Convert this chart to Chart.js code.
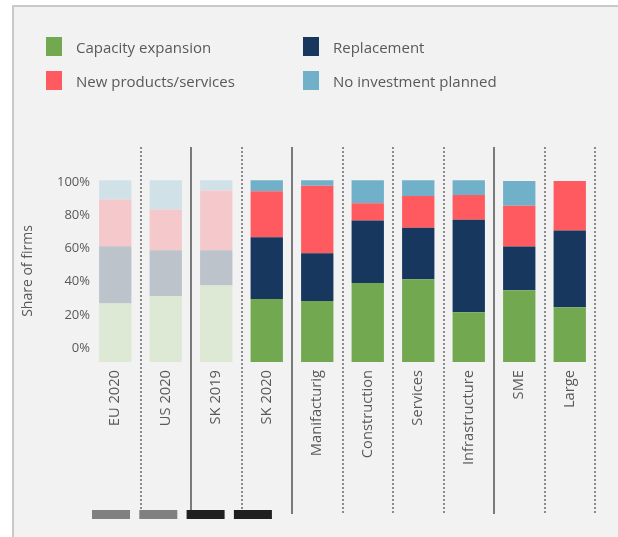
<!DOCTYPE html>
<html>
<head>
<meta charset="utf-8">
<script src="https://cdn.jsdelivr.net/npm/chart.js@4/dist/chart.umd.min.js"></script>
<style>
  html, body { margin: 0; padding: 0; background: #fff; }
  body { width: 618px; height: 537px; position: relative; overflow: hidden; font-family: "Open Sans", sans-serif; }
  #panel { position: absolute; left: 12px; top: 5px; right: 0; bottom: 0; background: #f2f2f2;
           border-left: 2px solid #c9c9c9; border-top: 2px solid #c9c9c9; }
  #chart { position: absolute; left: 0; top: 0; }
  #legend { position: absolute; left: 46px; top: 37px; }
  .item { position: absolute; display: flex; align-items: center; white-space: nowrap;
          font-size: 15px; color: #595959; height: 19px; }
  .sw { width: 16px; height: 19px; margin-right: 14px; flex: none; }
</style>
</head>
<body>
<div id="panel"></div>
<canvas id="chart" width="618" height="537"></canvas>
<div id="legend"></div>
<script>
// categories and shares (% of firms)
const categories = ['EU 2020', 'US 2020', 'SK 2019', 'SK 2020', 'Manifacturig', 'Construction',
                    'Services', 'Infrastructure', 'SME', 'Large'];
const capacityExpansion = [32.1, 36.1, 42.0, 34.6, 33.5, 43.4, 45.4, 27.3, 39.4, 30.1];
const replacement       = [31.5, 25.3, 19.4, 33.9, 26.2, 34.3, 28.4, 50.9, 24.0, 42.1];
const newProducts       = [25.7, 22.4, 32.8, 25.3, 37.2,  9.5, 17.4, 13.5, 22.5, 27.3];
const noInvestment      = [10.6, 16.1,  5.7,  6.0,  2.9, 12.6,  8.6,  8.1, 13.6,  0];
const yTicks = [0, 20, 40, 60, 80, 100];

// first three bars are shown faded (comparison)
const fadedCount = 3;
// separator style after each category
const separators = ['dot', 'solid', 'dot', 'solid', 'dot', 'dot', 'dot', 'solid', 'dot', 'dot'];

const series = [
  { label: 'Capacity expansion', data: capacityExpansion, color: '#72a84f', faded: '#dde9d4' },
  { label: 'Replacement', data: replacement, color: '#17375e', faded: '#bcc3cb' },
  { label: 'New products/services', data: newProducts, color: '#ff5a5f', faded: '#f5c9cb' },
  { label: 'No investment planned', data: noInvestment, color: '#70b0c8', faded: '#d0e2e7' }
];

Chart.defaults.font.family = "'Open Sans', sans-serif";
Chart.defaults.color = '#595959';

// legend in two columns (html, real text)
const legend = document.getElementById('legend');
const legendOrder = [0, 2, 1, 3];
legendOrder.forEach(function (idx, k) {
  const s = series[idx];
  const col = Math.floor(k / 2), row = k % 2;
  const el = document.createElement('div');
  el.className = 'item';
  el.style.left = (col * 257) + 'px';
  el.style.top = (row * 34) + 'px';
  el.innerHTML = '<span class="sw" style="background:' + s.color + '"></span>' + s.label;
  legend.appendChild(el);
});

// dividers between the categories + small group marks at the bottom
const dividers = {
  id: 'dividers',
  beforeDatasetsDraw(chart) {
    const ctx = chart.ctx, area = chart.chartArea, x = chart.scales.x;
    const step = x.getPixelForValue(1) - x.getPixelForValue(0);
    const top = area.top - 33, bottom = area.bottom + 152;
    ctx.save();
    separators.forEach(function (type, i) {
      const px = Math.round(x.getPixelForValue(i) + step / 2);
      ctx.beginPath();
      ctx.strokeStyle = type === 'solid' ? '#7a7a7a' : '#8c8c8c';
      ctx.lineWidth = 2;
      ctx.setLineDash(type === 'solid' ? [] : [2, 2]);
      ctx.moveTo(px, top);
      ctx.lineTo(px, bottom);
      ctx.stroke();
    });
    ctx.setLineDash([]);
    const marks = ['#808080', '#808080', '#1f1f1f', '#1f1f1f'];
    marks.forEach(function (c, i) {
      ctx.fillStyle = c;
      ctx.fillRect(area.left + 2 + i * 47.3, area.bottom + 148, 38, 9);
    });
    ctx.restore();
  }
};

new Chart(document.getElementById('chart'), {
  type: 'bar',
  data: {
    labels: categories,
    datasets: series.map(function (s) {
      return {
        label: s.label,
        data: s.data,
        backgroundColor: s.data.map(function (v, i) { return i < fadedCount ? s.faded : s.color; }),
        categoryPercentage: 1,
        barPercentage: 0.64
      };
    })
  },
  options: {
    responsive: false,
    animation: false,
    layout: { padding: { top: 180, right: 23, left: 0, bottom: 0 } },
    plugins: { legend: { display: false }, tooltip: { enabled: false } },
    scales: {
      x: {
        stacked: true,
        grid: { display: false, drawTicks: false },
        border: { display: false },
        ticks: { autoSkip: false, minRotation: 90, maxRotation: 90, padding: 8, font: { size: 14.7 } },
        afterFit(s) { s.height = 175; }
      },
      y: { stacked: true, min: 0, max: 100, display: false },
      yl: {
        position: 'left',
        min: -8.43,
        max: 101.2,
        grid: { display: false, drawTicks: false },
        border: { display: false },
        afterBuildTicks(s) { s.ticks = yTicks.map(function (v) { return { value: v }; }); },
        ticks: { padding: 0, font: { size: 13 }, callback: function (v) { return v + '%'; } },
        title: { display: true, text: 'Share of firms', font: { size: 14 }, padding: { top: 20, bottom: 0 } },
        afterFit(s) { s.width = 90; }
      }
    }
  },
  plugins: [dividers]
});
</script>
</body>
</html>
